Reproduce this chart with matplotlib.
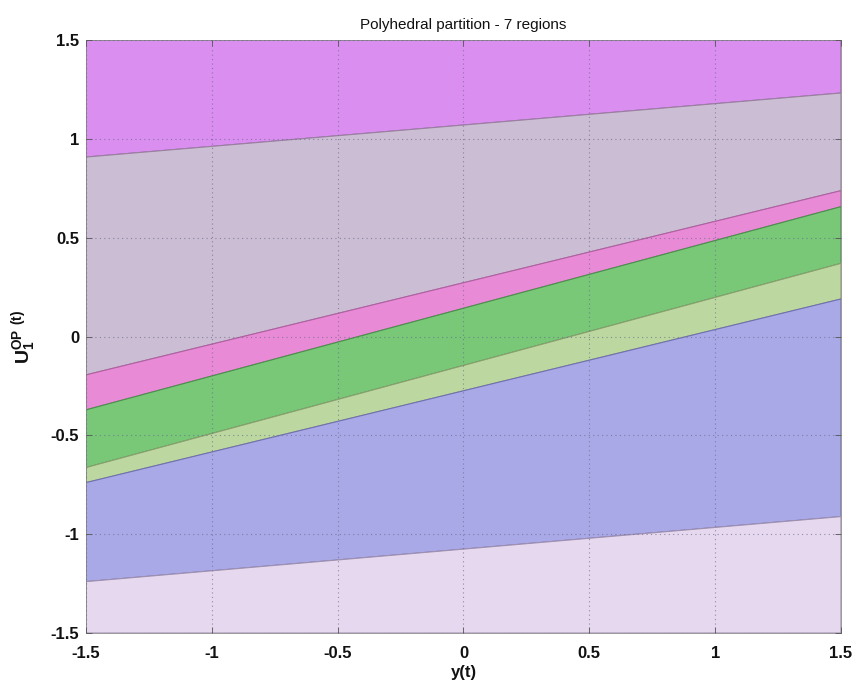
import numpy as np
import matplotlib.pyplot as plt

# partition boundaries: value of each separating line at y(t) = -1.5 and y(t) = 1.5
x_ends = [-1.5, 1.5]
bound_left = [0.908, -0.194, -0.371, -0.663, -0.739, -1.24]
bound_right = [1.232, 0.738, 0.657, 0.37, 0.19, -0.911]

# region fill colours, top to bottom
region_colors = ['#d98ef0', '#cbbdd3', '#e88ad6', '#78c878',
                 '#bcd8a0', '#a9a9e8', '#e6d8ee']
edge_colors = ['#9a60b0', '#9a80a0', '#b060a0', '#4a904a',
               '#8aa070', '#7070b0', '#a090b0']

tick_labels = ['-1.5', '-1', '-0.5', '0', '0.5', '1', '1.5']

plt.rcParams['font.family'] = ['Liberation Sans', 'DejaVu Sans']
plt.rcParams['mathtext.fontset'] = 'custom'
plt.rcParams['mathtext.rm'] = 'Liberation Sans'
plt.rcParams['mathtext.bf'] = 'Liberation Sans:bold'

fig = plt.figure(figsize=(8.53, 6.82), dpi=100)
ax = fig.add_axes([0.1008, 0.0718, 0.8851, 0.8695])

xmin, xmax = -1.5, 1.5
ymin, ymax = -1.5, 1.5

# stack of lines including the plot limits
lefts = [ymax] + bound_left + [ymin]
rights = [ymax] + bound_right + [ymin]

for i in range(len(region_colors)):
    poly_x = [x_ends[0], x_ends[1], x_ends[1], x_ends[0]]
    poly_y = [lefts[i], rights[i], rights[i + 1], lefts[i + 1]]
    ax.fill(poly_x, poly_y, facecolor=region_colors[i],
            edgecolor=edge_colors[i], linewidth=0.8, zorder=1)

ax.set_xlim(xmin, xmax)
ax.set_ylim(ymin, ymax)
ticks = np.arange(-1.5, 1.51, 0.5)
ax.set_xticks(ticks)
ax.set_yticks(ticks)
ax.set_xticklabels(tick_labels, fontweight='bold')
ax.set_yticklabels(tick_labels, fontweight='bold')
ax.tick_params(direction='in', length=4, labelsize=12, width=0.6, colors='#555555',
               labelcolor='#111111', top=True, right=True)
ax.tick_params(axis='x', pad=9)
ax.tick_params(axis='y', pad=5)
ax.grid(True, linestyle=(0, (1, 3)), color='#6a6a8a', linewidth=0.8, alpha=0.7)
ax.set_axisbelow(False)
for s in ax.spines.values():
    s.set_linewidth(0.6)
    s.set_color('#888888')

ax.set_title('Polyhedral partition - 7 regions', fontsize=11, pad=8, color='#111111')
ax.set_xlabel('y(t)', fontsize=12, fontweight='bold', labelpad=3, color='#111111')
ax.set_ylabel(r'$\mathbf{U_1^{OP}}^{\ \mathbf{(t)}}$', fontsize=14,
              labelpad=8, color='#111111')

fig.savefig('out.png', dpi=100)
